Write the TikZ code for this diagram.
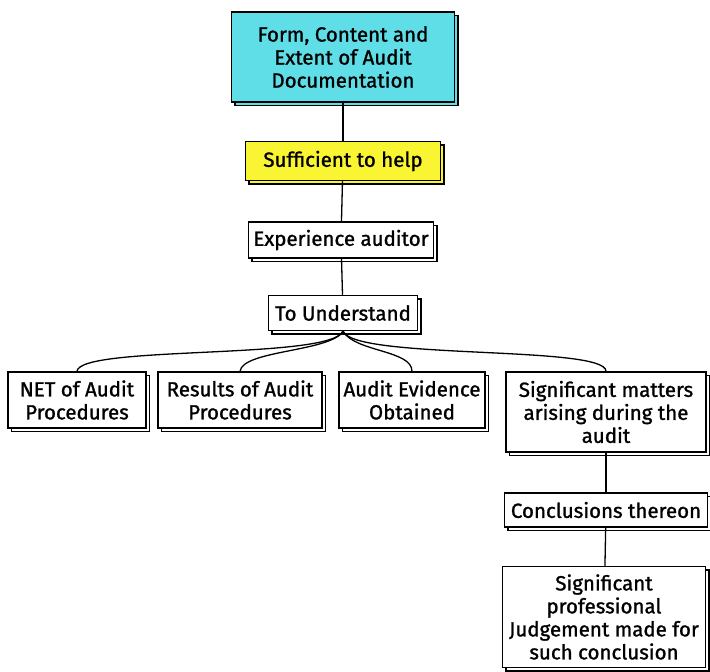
\documentclass[tikz,border=0pt]{standalone}
\usepackage{fontspec}
\setmainfont{Fira Sans}
\newfontfamily\boxfont{Fira Sans}[FakeBold=1.2]
\usepackage{tikz}
\usetikzlibrary{shadows}
\definecolor{boxcyan}{RGB}{96,222,232}
\definecolor{boxyellow}{RGB}{250,245,50}

\begin{document}
\begin{tikzpicture}[x=1pt,y=-1pt]
        \tikzset{box/.style = {shape=rectangle,draw,line width=1.5pt,fill=white,align=center,inner sep=2pt,
                 font=\boxfont\fontsize{20.5}{23}\selectfont,copy shadow={shadow xshift=3.5pt,shadow yshift=-3.5pt}}}
        \tikzset{boxc/.style = {box,fill = boxcyan}}
        \tikzset{boxy/.style = {box,fill = boxyellow}}
        \tikzset{edge/.style = {line width=1.3pt}}
        \useasboundingbox (0,0) rectangle (710,672);
        % boxes
        \node[boxc,minimum width=223pt,minimum height=90pt] (form) at (343,57) {Form, Content and\\Extent of Audit\\Documentation};
        \node[boxy,minimum width=195pt,minimum height=39pt] (suff) at (343,161) {Sufficient to help};
        \node[box,minimum width=185pt,minimum height=36pt] (exp) at (341,240) {Experience auditor};
        \node[box,minimum width=149pt,minimum height=35pt] (und) at (343,313) {To Understand};
        \node[box,minimum width=138pt,minimum height=56pt] (net) at (77,400) {NET of Audit\\Procedures};
        \node[box,minimum width=164pt,minimum height=56pt] (res) at (240,400) {Results of Audit\\Procedures};
        \node[box,minimum width=146pt,minimum height=56pt] (evi) at (412,400) {Audit Evidence\\Obtained};
        \node[box,minimum width=200pt,minimum height=80pt] (sig) at (606,412) {Significant matters\\arising during the\\audit};
        \node[box,minimum width=203pt,minimum height=34pt] (con) at (606,510) {Conclusions thereon};
        \node[box,minimum width=203pt,minimum height=101pt] (jud) at (604,617) {Significant\\professional\\Judgement made for\\such conclusion};

        %edges straight
        \draw[edge] (form) to (suff);
        \draw[edge] (suff) to (exp);
        \draw[edge] (exp) to (und);
        \draw[edge] (sig.south -| con.north) to (con);
        \draw[edge] (con) to (jud);
        %edges branching
        \draw[edge] (und.south) .. controls (330,360) and (80,345) .. (net.north);
        \draw[edge] (und.south) .. controls (330,352) and (243,350) .. (res.north);
        \draw[edge] (und.south) .. controls (355,352) and (412,350) .. (evi.north);
        \draw[edge] (und.south) .. controls (355,360) and (606,345) .. (sig.north);
\end{tikzpicture}
\end{document}
